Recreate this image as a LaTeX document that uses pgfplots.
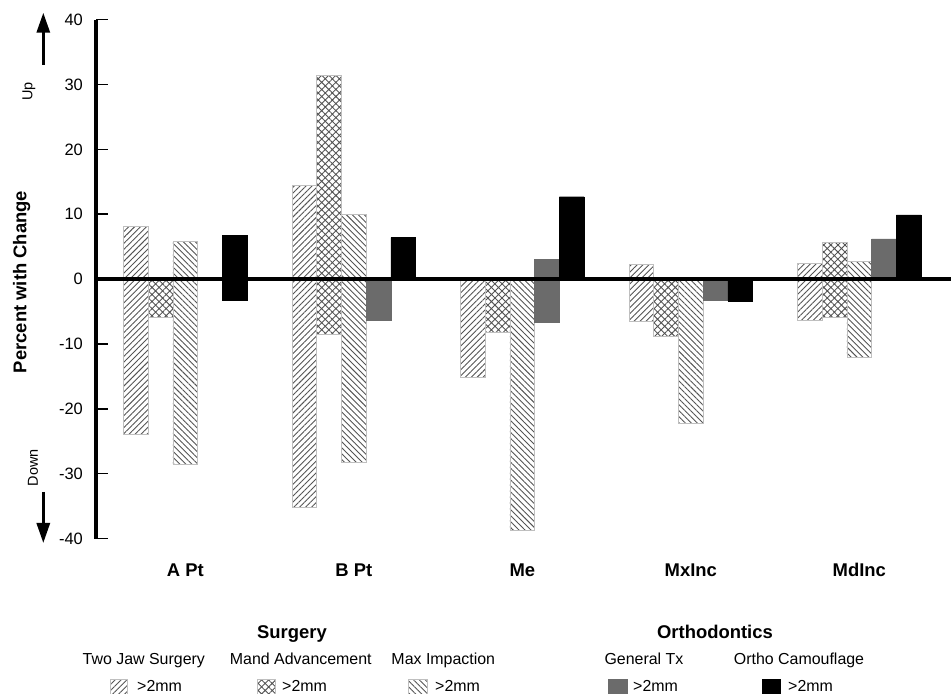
\documentclass[border=0pt]{standalone}
\usepackage{fontspec}
\setmainfont{Liberation Sans}
\usepackage{pgfplots}
\pgfplotsset{compat=1.18}
\usetikzlibrary{patterns.meta,arrows.meta}

\definecolor{hatchgray}{gray}{0.33}
\definecolor{edgegray}{gray}{0.75}
\definecolor{gentxgray}{gray}{0.42}

\tikzset{
  twojaw/.style={draw=edgegray, line width=0.8bp,
    pattern={Lines[angle=45,distance=4.2bp,line width=0.9bp]}, pattern color=hatchgray},
  mand/.style={draw=edgegray, line width=0.8bp,
    pattern={Hatch[angle=45,distance=5bp,line width=0.9bp]}, pattern color=hatchgray},
  maximp/.style={draw=edgegray, line width=0.8bp,
    pattern={Lines[angle=-45,distance=4.2bp,line width=0.9bp]}, pattern color=hatchgray},
  gentx/.style={draw=gentxgray, fill=gentxgray},
  ortho/.style={draw=black, fill=black},
  lbl/.style={font=\fontsize{16}{19}\selectfont},
  bold/.style={font=\fontsize{18.5}{22}\selectfont\bfseries},
}

\begin{document}
\begin{tikzpicture}
\useasboundingbox (-96bp,-155.4bp) rectangle (855bp,538.6bp);
\begin{axis}[
  at={(0,0)}, anchor=south west,
  width=855bp, height=519bp, scale only axis,
  xmin=-0.530, xmax=4.544, ymin=-40, ymax=40,
  clip=false,
  axis y line*=left, axis x line*=bottom,
  axis line style={draw=none},
  ybar, bar width=24.7bp,
  xtick={0,1,2,3,4},
  xticklabels={A Pt, B Pt, Me, MxInc, MdInc},
  xtick style={draw=none},
  xticklabel style={font=\fontsize{18.5}{22}\selectfont\bfseries, anchor=base, inner sep=0pt, yshift=-38bp},
  ytick={-40,-30,...,40},
  yticklabels={-40,-30,-20,-10,0,10,20,30,40},
  yticklabel style={font=\fontsize{16.5}{20}\selectfont, anchor=east, inner sep=0pt, xshift=-13bp},
  ytick style={line width=1.5bp, black},
  tick align=inside,
  major tick length=12bp,
]
% Two Jaw Surgery
\addplot[twojaw, bar shift=-49.4bp] coordinates {(0,8.1) (1,14.4) (3,2.2) (4,2.4)};
\addplot[twojaw, bar shift=-49.4bp] coordinates {(0,-24.0) (1,-35.2) (2,-15.2) (3,-6.5) (4,-6.3)};
% Mand Advancement
\addplot[mand, bar shift=-24.7bp] coordinates {(1,31.4) (4,5.7)};
\addplot[mand, bar shift=-24.7bp] coordinates {(0,-5.9) (1,-8.6) (2,-8.2) (3,-8.9) (4,-5.9)};
% Max Impaction
\addplot[maximp, bar shift=0bp] coordinates {(0,5.8) (1,9.9) (4,2.7)};
\addplot[maximp, bar shift=0bp] coordinates {(0,-28.6) (1,-28.2) (2,-38.8) (3,-22.3) (4,-12.0)};
% General Tx
\addplot[gentx, bar shift=24.7bp] coordinates {(2,3.0) (4,6.2)};
\addplot[gentx, bar shift=24.7bp] coordinates {(1,-6.4) (2,-6.6) (3,-3.3)};
% Ortho Camouflage
\addplot[ortho, bar shift=49.4bp] coordinates {(0,6.7) (1,6.4) (2,12.7) (4,9.9)};
\addplot[ortho, bar shift=49.4bp] coordinates {(0,-3.2) (3,-3.4)};
% zero line and vertical axis line
\addplot[black, line width=4.6bp, sharp plot, forget plot] coordinates {(-0.530,0) (4.544,0)};
\addplot[black, line width=4.3bp, sharp plot, forget plot] coordinates {(-0.530,-40) (-0.530,40)};
\end{axis}

% direction arrows and axis title
\draw[line width=3bp, -{Triangle[width=13bp,length=20bp]}] (-52.7bp,473.6bp) -- (-52.7bp,525.9bp);
\draw[line width=3bp, -{Triangle[width=13bp,length=20bp]}] (-52.7bp,46.6bp) -- (-52.7bp,-4.4bp);
\node[rotate=90, font=\fontsize{14.5}{17}\selectfont] at (-67bp,447bp) {Up};
\node[rotate=90, font=\fontsize{14.5}{17}\selectfont] at (-63bp,71bp) {Down};
\node[rotate=90, bold] at (-74.3bp,256.6bp) {Percent with Change};

% legend
\node[anchor=base, bold] at (196bp,-99.6bp) {Surgery};
\node[anchor=base, bold] at (619bp,-99.6bp) {Orthodontics};
\node[anchor=base, lbl] at (47.8bp,-126bp) {Two Jaw Surgery};
\node[anchor=base, lbl] at (204.8bp,-126bp) {Mand Advancement};
\node[anchor=base, lbl] at (347.3bp,-126bp) {Max Impaction};
\node[anchor=base, lbl] at (548bp,-126bp) {General Tx};
\node[anchor=base, lbl] at (703bp,-126bp) {Ortho Camouflage};

\path[twojaw] (14bp,-140.4bp) rectangle (31bp,-158bp);
\path[mand] (161bp,-140.4bp) rectangle (179bp,-158bp);
\path[maximp] (312bp,-140.4bp) rectangle (331bp,-158bp);
\path[gentx] (512bp,-140.4bp) rectangle (531bp,-158bp);
\path[ortho] (666bp,-140.4bp) rectangle (684bp,-158bp);

\node[anchor=base west, inner sep=0pt, lbl] at (41bp,-152.9bp) {>2mm};
\node[anchor=base west, inner sep=0pt, lbl] at (186bp,-152.9bp) {>2mm};
\node[anchor=base west, inner sep=0pt, lbl] at (339bp,-152.9bp) {>2mm};
\node[anchor=base west, inner sep=0pt, lbl] at (537bp,-152.9bp) {>2mm};
\node[anchor=base west, inner sep=0pt, lbl] at (692bp,-152.9bp) {>2mm};
\end{tikzpicture}
\end{document}
